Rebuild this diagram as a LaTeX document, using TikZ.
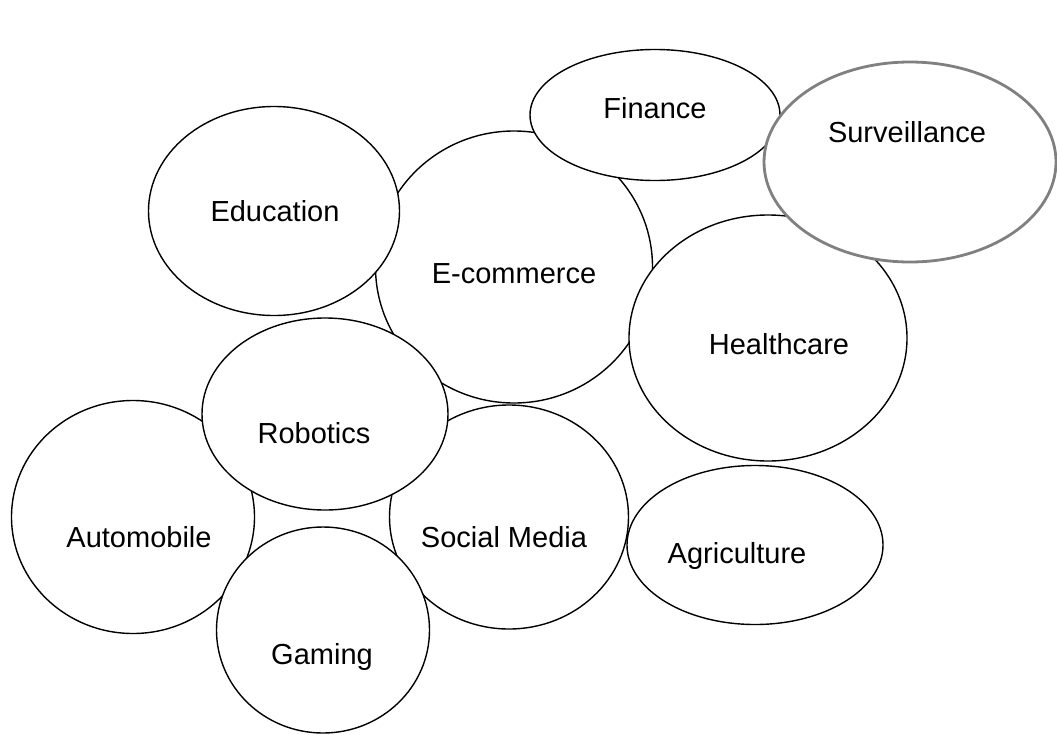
\documentclass[tikz,border=0pt]{standalone}
\usepackage{fontspec}
\setmainfont{Liberation Sans}
\usetikzlibrary{shapes.geometric}
\definecolor{survgray}{RGB}{128,128,128}
\tikzset{
  bubble/.style={ellipse, draw=black, line width=1.4pt, fill=white, inner sep=0pt, outer sep=0pt},
  graybubble/.style={bubble, draw=survgray, line width=2.8pt},
  lbl/.style={anchor=base, inner sep=0pt, font=\fontsize{29}{34}\selectfont}
}
\begin{document}
\begin{tikzpicture}[x=1pt,y=-1pt]
\useasboundingbox (0,0) rectangle (1057,734);
% E-commerce
\node[bubble, minimum width=277, minimum height=272] (ecom) at (514,267) {};
\node[lbl] (ecomt) at (514,283) {E-commerce};
% Education
\node[bubble, minimum width=251, minimum height=209] (edu) at (274,211) {};
\node[lbl] (edut) at (275,221) {Education};
% Finance
\node[bubble, minimum width=250, minimum height=131] (fin) at (655,115) {};
\node[lbl] (fint) at (655,118) {Finance};
% Healthcare
\node[bubble, minimum width=278, minimum height=246] (health) at (768,338) {};
\node[lbl] (healtht) at (779,354) {Healthcare};
% Surveillance
\node[graybubble, minimum width=292, minimum height=200] (surv) at (910,162) {};
\node[lbl] (survt) at (907,142) {Surveillance};
% Automobile
\node[bubble, minimum width=243, minimum height=233] (auto) at (133,517) {};
\node[lbl] (autot) at (139,547) {Automobile};
% Social Media
\node[bubble, minimum width=239, minimum height=224] (social) at (509,517) {};
\node[lbl] (socialt) at (504,547) {Social Media};
% Robotics
\node[bubble, minimum width=246, minimum height=192] (robot) at (325,414) {};
\node[lbl] (robott) at (314,443) {Robotics};
% Gaming
\node[bubble, minimum width=213, minimum height=206] (game) at (323,630) {};
\node[lbl] (gamet) at (322,664) {Gaming};
% Agriculture
\node[bubble, minimum width=256, minimum height=159] (agri) at (755,545) {};
\node[lbl] (agrit) at (737,563) {Agriculture};
\end{tikzpicture}
\end{document}
